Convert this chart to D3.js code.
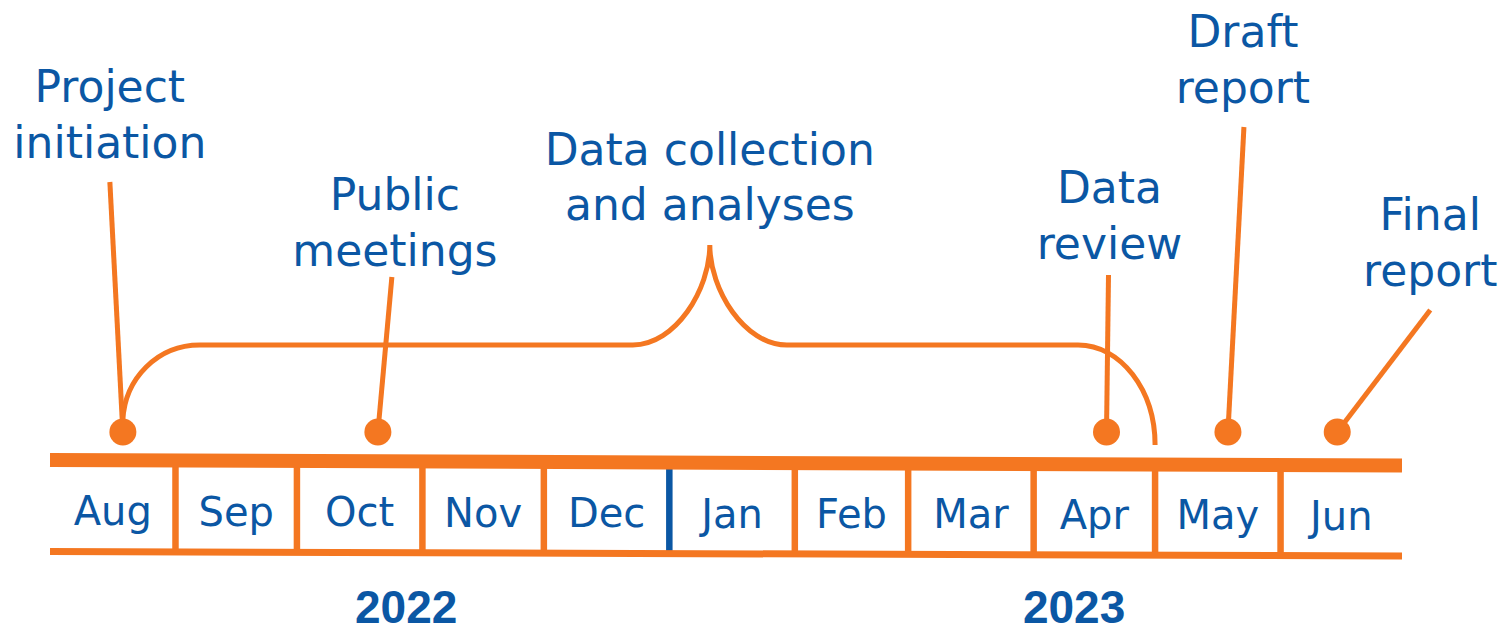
<!DOCTYPE html>
<html>
<head>
<meta charset="utf-8">
<script src="https://cdn.jsdelivr.net/npm/d3@7"></script>
<style>
  html, body { margin: 0; padding: 0; background: #ffffff; }
  svg { display: block; }
</style>
</head>
<body>
<svg id="chart" width="1507" height="634"></svg>
<script>
// ---------------- data ----------------
const months = ["Aug", "Sep", "Oct", "Nov", "Dec", "Jan", "Feb", "Mar", "Apr", "May", "Jun"];
const monthStarts = ["2022-08-01", "2022-09-01", "2022-10-01", "2022-11-01", "2022-12-01",
                     "2023-01-01", "2023-02-01", "2023-03-01", "2023-04-01", "2023-05-01",
                     "2023-06-01", "2023-07-01"];
const yearBoundary = "2023-01-01";
const yearLabels = ["2022", "2023"];
const yearLabelDates = ["2022-10-28", "2023-04-11"];

const milestoneNames = [["Project", "initiation"], ["Public", "meetings"], ["Data", "review"],
                        ["Draft", "report"], ["Final", "report"]];
const milestoneDates = ["2022-08-19", "2022-10-21", "2023-04-19", "2023-05-19", "2023-06-15"];

const phaseName = ["Data collection", "and analyses"];
const phaseStart = "2022-08-19";
const phasePeak = "2023-01-11";
const phaseEnd = "2023-05-01";

// ---------------- layout / style ----------------
const ORANGE = "#F47721";
const BLUE = "#0B57A4";
const FONT = "'DejaVu Sans', sans-serif";
// label placement relative to each milestone dot: dx (px), first baseline y, leader top y, leader top dx
const labelLayout = [
  { dx: -13, y: 102, lineTop: 182, ldx: -13 },
  { dx: 17,  y: 210, lineTop: 277, ldx: 14 },
  { dx: 3,   y: 203, lineTop: 275, ldx: 2 },
  { dx: 15,  y: 47,  lineTop: 127, ldx: 16 },
  { dx: 93,  y: 230, lineTop: 310, ldx: 93 }
];
const lineGap = 56;

const parse = d3.timeParse("%Y-%m-%d");
const svg = d3.select("#chart");

const x = d3.scaleTime()
  .domain([parse(monthStarts[0]), parse(monthStarts[monthStarts.length - 1])])
  .range([50, 1402]);

// slight slant of the ribbon
const topY = d3.scaleLinear().domain([50, 1402]).range([460, 465.5]);
const botY = d3.scaleLinear().domain([50, 1402]).range([551.5, 556]);
const labY = d3.scaleLinear().domain([50, 1402]).range([525, 530]);

const x0 = x.range()[0], x1 = x.range()[1];

// ---------------- phase brace ----------------
const bs = x(parse(phaseStart)), bp = x(parse(phasePeak)), be = x(parse(phaseEnd));
const yh = 345, yPeak = 245, yStart = 420, yEnd = 445;
const rw = 77, k = 0.552;
const bracePath = d3.path();
bracePath.moveTo(bs, yStart);
bracePath.bezierCurveTo(bs + 2, yStart - k * (yStart - yh), bs + rw - k * rw, yh, bs + rw, yh);
bracePath.lineTo(bp - rw, yh);
bracePath.bezierCurveTo(bp - rw + k * rw, yh, bp, yh - k * (yh - yPeak), bp, yPeak);
bracePath.bezierCurveTo(bp, yh - k * (yh - yPeak), bp + rw - k * rw, yh, bp + rw, yh);
bracePath.lineTo(be - rw, yh);
bracePath.bezierCurveTo(be - rw + k * rw, yh, be, yEnd - k * (yEnd - yh), be, yEnd);
svg.append("path")
  .attr("d", bracePath.toString())
  .attr("fill", "none")
  .attr("stroke", ORANGE)
  .attr("stroke-width", 5);

svg.append("text")
  .attr("font-family", FONT)
  .attr("font-size", 44)
  .attr("fill", BLUE)
  .attr("text-anchor", "middle")
  .selectAll("tspan")
  .data(phaseName)
  .join("tspan")
  .attr("x", bp)
  .attr("y", (d, i) => 165 + i * 55)
  .text(d => d);

// ---------------- milestones ----------------
const ms = milestoneDates.map((d, i) => ({ date: parse(d), name: milestoneNames[i], lay: labelLayout[i] }));
const dotY = 432;

const g = svg.append("g");
g.selectAll("line.leader")
  .data(ms)
  .join("line")
  .attr("class", "leader")
  .attr("x1", d => x(d.date) + d.lay.ldx)
  .attr("y1", d => d.lay.lineTop)
  .attr("x2", d => x(d.date))
  .attr("y2", dotY)
  .attr("stroke", ORANGE)
  .attr("stroke-width", 5);

g.selectAll("circle")
  .data(ms)
  .join("circle")
  .attr("cx", d => x(d.date))
  .attr("cy", dotY)
  .attr("r", 13.5)
  .attr("fill", ORANGE);

g.selectAll("text.ms")
  .data(ms)
  .join("text")
  .attr("class", "ms")
  .attr("font-family", FONT)
  .attr("font-size", 44)
  .attr("fill", BLUE)
  .attr("text-anchor", "middle")
  .each(function (d) {
    d3.select(this).selectAll("tspan")
      .data(d.name)
      .join("tspan")
      .attr("x", x(d.date) + d.lay.dx)
      .attr("y", (t, i) => d.lay.y + i * lineGap)
      .text(t => t);
  });

// ---------------- month ribbon ----------------
const bounds = monthStarts.map(parse);
const inner = bounds.slice(1, -1);

svg.append("g").selectAll("line")
  .data(inner)
  .join("line")
  .attr("x1", d => x(d)).attr("x2", d => x(d))
  .attr("y1", d => topY(x(d)))
  .attr("y2", d => botY(x(d)))
  .attr("stroke", d => (+d === +parse(yearBoundary) ? BLUE : ORANGE))
  .attr("stroke-width", 6.5);

svg.append("line")
  .attr("x1", x0).attr("x2", x1)
  .attr("y1", topY(x0)).attr("y2", topY(x1))
  .attr("stroke", ORANGE).attr("stroke-width", 14);

svg.append("line")
  .attr("x1", x0).attr("x2", x1)
  .attr("y1", botY(x0)).attr("y2", botY(x1))
  .attr("stroke", ORANGE).attr("stroke-width", 7);

svg.append("g").selectAll("text")
  .data(months)
  .join("text")
  .attr("x", (d, i) => (x(bounds[i]) + x(bounds[i + 1])) / 2)
  .attr("y", (d, i) => labY((x(bounds[i]) + x(bounds[i + 1])) / 2))
  .attr("text-anchor", "middle")
  .attr("font-family", FONT)
  .attr("font-size", 40)
  .attr("fill", BLUE)
  .text(d => d);

// ---------------- years ----------------
svg.append("g").selectAll("text")
  .data(yearLabels)
  .join("text")
  .attr("x", (d, i) => x(parse(yearLabelDates[i])))
  .attr("y", 623)
  .attr("text-anchor", "middle")
  .attr("font-family", "'Liberation Sans', Arial, sans-serif")
  .attr("font-weight", "bold")
  .attr("font-size", 46)
  .attr("fill", BLUE)
  .text(d => d);
</script>
</body>
</html>
